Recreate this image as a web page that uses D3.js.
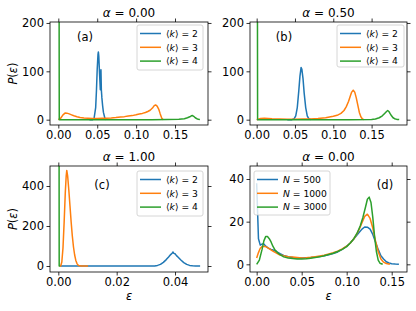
<!DOCTYPE html>
<html>
<head>
<meta charset="utf-8">
<script src="https://cdn.jsdelivr.net/npm/d3@7"></script>
<style>
body { margin: 0; background: #fff; }
text { font-family: "DejaVu Sans", sans-serif; fill: #000; }
</style>
</head>
<body>
<script>
// ---- data ----
var alphaTitles = ['0.00', '0.50', '1.00', '0.00'];
var panelTags = ['(a)', '(b)', '(c)', '(d)'];
var kLabels = ['2', '3', '4'];
var nLabels = ['500', '1000', '3000'];
var colors = ['#1f77b4', '#ff7f0e', '#2ca02c'];

// (a) alpha = 0.00
var epsA2 = [0.040, 0.044, 0.046, 0.048, 0.049, 0.050, 0.051, 0.0515, 0.052, 0.053, 0.054, 0.0548, 0.0553, 0.056, 0.057, 0.058, 0.060, 0.061];
var pA2   = [0, 0, 3, 25, 60, 105, 135, 140, 132, 95, 62, 103, 62, 45, 28, 15, 2, 0];
var epsA3 = [0, 0.003, 0.006, 0.009, 0.011, 0.014, 0.017, 0.020, 0.024, 0.028, 0.033, 0.038, 0.044, 0.050, 0.056, 0.062, 0.068, 0.074, 0.080, 0.085, 0.090, 0.095, 0.100, 0.104, 0.108, 0.112, 0.115, 0.118, 0.121, 0.123, 0.125, 0.127, 0.129, 0.131, 0.133, 0.135];
var pA3   = [0, 3, 10, 14, 13.5, 12, 10, 8, 6, 4.5, 3.5, 3, 2.6, 2.5, 2.8, 3.1, 3.5, 4.4, 5.6, 6.3, 7.7, 8.4, 10, 11.6, 13, 14.8, 17, 19.5, 24, 28.5, 30.5, 28, 22, 12, 3, 0];
var epsA4 = [0, 0.0012, 0.003, 0.03, 0.06, 0.09, 0.12, 0.14, 0.155, 0.162, 0.166, 0.169, 0.171, 0.1725, 0.174, 0.176, 0.178, 0.180, 0.182];
var pA4   = [1500, 0, 0, 0, 0, 0, 0, 0.2, 0.8, 2, 4, 6, 8, 8.6, 7, 4, 2, 0.8, 0.2];

// (b) alpha = 0.50
var epsB2 = [0.040, 0.046, 0.049, 0.051, 0.053, 0.055, 0.0565, 0.058, 0.059, 0.0605, 0.062, 0.064, 0.066, 0.068, 0.071];
var pB2   = [0, 0, 2, 8, 25, 60, 90, 108, 104, 85, 55, 25, 8, 2, 0];
var epsB3 = [0, 0.005, 0.010, 0.015, 0.020, 0.030, 0.040, 0.050, 0.060, 0.070, 0.080, 0.090, 0.095, 0.100, 0.105, 0.110, 0.114, 0.117, 0.120, 0.122, 0.124, 0.126, 0.128, 0.130, 0.132, 0.134, 0.136, 0.138, 0.140];
var pB3   = [0, 2.5, 3, 2.5, 2, 1.5, 1, 1, 1.2, 1.5, 2.5, 4, 5.5, 7, 9, 13, 19, 27, 38, 48, 57, 61, 57, 45, 30, 15, 6, 1.5, 0];
var epsB4 = [0, 0.0012, 0.003, 0.03, 0.06, 0.09, 0.12, 0.15, 0.155, 0.160, 0.164, 0.167, 0.1695, 0.171, 0.1725, 0.174, 0.176, 0.178, 0.180, 0.183, 0.186];
var pB4   = [1500, 0, 0, 0, 0, 0, 0, 0.5, 1.5, 4, 8, 13, 17, 19, 17, 13, 8, 4, 2, 0.6, 0.2];

// (c) alpha = 1.00
var epsC2 = [0.0006, 0.005, 0.010, 0.015, 0.020, 0.025, 0.030, 0.033, 0.034, 0.035, 0.036, 0.037, 0.0378, 0.0385, 0.039, 0.0393, 0.0396, 0.040, 0.0405, 0.041, 0.042, 0.043, 0.044, 0.045, 0.046, 0.047, 0.0486];
var pC2   = [0, 0, 0, 0, 0, 0, 0, 0.5, 3, 8, 18, 32, 45, 57, 64, 70, 63, 61, 52, 45, 30, 17, 8, 3, 1, 0.2, 0];
var epsC3 = [0.0004, 0.0008, 0.0012, 0.0016, 0.002, 0.0024, 0.0027, 0.0029, 0.0032, 0.0036, 0.004, 0.0044, 0.0048, 0.0052, 0.0056, 0.006, 0.0064, 0.0068, 0.0072, 0.008, 0.0102];
var pC3   = [0, 0, 20, 90, 220, 370, 450, 478, 450, 380, 300, 220, 150, 95, 55, 28, 12, 4, 1, 0, 0];
var epsC4 = [0.0001, 0.0003, 0.0006];
var pC4   = [3000, 0, 0];

// (d) alpha = 0.00, system sizes
var epsD1 = [0, 0.002, 0.004, 0.006, 0.008, 0.010, 0.013, 0.016, 0.019, 0.022, 0.026, 0.030, 0.035, 0.040, 0.045, 0.050, 0.055, 0.060, 0.065, 0.070, 0.075, 0.080, 0.085, 0.090, 0.095, 0.100, 0.104, 0.108, 0.111, 0.114, 0.117, 0.120, 0.123, 0.126, 0.129, 0.132, 0.135, 0.138, 0.141, 0.144, 0.147, 0.150, 0.154, 0.158];
var pD1   = [38, 12, 9, 9.5, 9.6, 8.5, 7.6, 7, 6.6, 6, 5, 4.2, 3.6, 3.2, 3, 3, 3.1, 3.2, 3.4, 3.7, 4, 4.5, 5.1, 5.8, 7, 8.5, 10, 12, 13.5, 15, 16.5, 17.5, 17.4, 16.5, 14, 10.5, 7, 4, 2.5, 1.2, 0.6, 0.3, 0.1, 0];
var epsD2 = [0, 0.002, 0.004, 0.006, 0.008, 0.010, 0.012, 0.015, 0.018, 0.021, 0.025, 0.030, 0.035, 0.040, 0.045, 0.050, 0.055, 0.060, 0.065, 0.070, 0.075, 0.080, 0.085, 0.090, 0.095, 0.100, 0.104, 0.108, 0.111, 0.114, 0.117, 0.120, 0.123, 0.126, 0.129, 0.132, 0.135, 0.138, 0.141, 0.144, 0.148];
var pD2   = [3, 5.5, 7.5, 8.3, 8.5, 8.3, 7.8, 7, 6.2, 5.5, 4.5, 4, 3.6, 3.4, 3.2, 3, 3.1, 3.3, 3.6, 3.9, 4.3, 4.8, 5.4, 6.2, 7.2, 8.5, 10, 12, 14, 16.5, 19.5, 22.5, 23.5, 21.5, 17, 11, 6, 2.5, 1, 0.4, 0];
var epsD3 = [0, 0.003, 0.006, 0.008, 0.010, 0.012, 0.014, 0.016, 0.018, 0.020, 0.023, 0.026, 0.030, 0.035, 0.040, 0.045, 0.050, 0.055, 0.060, 0.065, 0.070, 0.075, 0.080, 0.085, 0.090, 0.095, 0.100, 0.104, 0.108, 0.112, 0.115, 0.118, 0.121, 0.123, 0.125, 0.127, 0.129, 0.131, 0.133, 0.135, 0.137, 0.140];
var pD3   = [0, 2, 7, 11, 13, 13, 12, 10.5, 8.5, 7, 5.5, 4.5, 3.5, 3, 2.7, 2.5, 2.5, 2.6, 2.9, 3.2, 3.5, 4, 4.6, 5.2, 6, 7, 8.3, 10, 12, 15, 18, 22, 27, 30.5, 31.5, 29, 22, 13, 6, 2, 0.5, 0];

var ticksXA = [0, 0.05, 0.10, 0.15];
var ticksXC = [0, 0.02, 0.04];
var ticksYA = [0, 100, 200];
var ticksYC = [0, 200, 400];
var ticksYD = [0, 20, 40];

function zipPts(xs, ys) { return xs.map(function (x, i) { return [x, ys[i]]; }); }

// ---- layout ----
var W = 416, H = 311;
var panels = [
  { x0: 50, x1: 208, y0: 22, y1: 125, xd: [-0.0107, 0.1924], yd: [-11, 202], xt: ticksXA, yt: ticksYA,
    series: [zipPts(epsA2, pA2), zipPts(epsA3, pA3), zipPts(epsA4, pA4)], labels: kLabels, kind: 'k',
    leg: { x: 137, y: 25, w: 66, h: 45 }, tag: { x: 85, y: 41 }, ylab: true, xlab: false },
  { x0: 250, x1: 407, y0: 22, y1: 125, xd: [-0.0087, 0.1962], yd: [-11, 202], xt: ticksXA, yt: ticksYA,
    series: [zipPts(epsB2, pB2), zipPts(epsB3, pB3), zipPts(epsB4, pB4)], labels: kLabels, kind: 'k',
    leg: { x: 337, y: 25, w: 67, h: 42 }, tag: { x: 284, y: 41 }, ylab: false, xlab: false },
  { x0: 50, x1: 208, y0: 166, y1: 272, xd: [-0.00285, 0.0513], yd: [-30, 500], xt: ticksXC, yt: ticksYC,
    series: [zipPts(epsC2, pC2), zipPts(epsC3, pC3), zipPts(epsC4, pC4)], labels: kLabels, kind: 'k',
    leg: { x: 137, y: 171, w: 66, h: 45 }, tag: { x: 102, y: 189 }, ylab: true, xlab: true },
  { x0: 250, x1: 407, y0: 166, y1: 272, xd: [-0.0074, 0.167], yd: [-3.6, 46.1], xt: ticksXA, yt: ticksYD,
    series: [zipPts(epsD1, pD1), zipPts(epsD2, pD2), zipPts(epsD3, pD3)], labels: nLabels, kind: 'N',
    leg: { x: 254, y: 171, w: 76, h: 44 }, tag: { x: 385, y: 189 }, ylab: false, xlab: true }
];

var svg = d3.select('body').append('svg').attr('width', W).attr('height', H);

panels.forEach(function (p, pi) {
  var x = d3.scaleLinear().domain(p.xd).range([p.x0, p.x1]);
  var y = d3.scaleLinear().domain(p.yd).range([p.y1, p.y0]);
  var g = svg.append('g');

  g.append('clipPath').attr('id', 'clip' + pi).append('rect')
    .attr('x', p.x0).attr('y', p.y0).attr('width', p.x1 - p.x0).attr('height', p.y1 - p.y0);

  var line = d3.line().x(function (d) { return x(d[0]); }).y(function (d) { return y(d[1]); });
  p.series.forEach(function (s, si) {
    g.append('path').datum(s)
      .attr('clip-path', 'url(#clip' + pi + ')')
      .attr('d', line)
      .attr('fill', 'none')
      .attr('stroke', colors[si])
      .attr('stroke-width', 1.5)
      .attr('stroke-linejoin', 'round');
  });

  var fmt = d3.format('.2f');
  var fmtY = d3.format('d');
  var axB = g.append('g').attr('transform', 'translate(0,' + p.y1 + ')')
    .call(d3.axisBottom(x).tickValues(p.xt).tickFormat(fmt).tickSize(3.5).tickPadding(2.5).tickSizeOuter(0));
  var axT = g.append('g').attr('transform', 'translate(0,' + p.y0 + ')')
    .call(d3.axisTop(x).tickValues(p.xt).tickFormat('').tickSize(3.5).tickSizeOuter(0));
  var axL = g.append('g').attr('transform', 'translate(' + p.x0 + ',0)')
    .call(d3.axisLeft(y).tickValues(p.yt).tickFormat(fmtY).tickSize(3.5).tickPadding(2.5).tickSizeOuter(0));
  var axR = g.append('g').attr('transform', 'translate(' + p.x1 + ',0)')
    .call(d3.axisRight(y).tickValues(p.yt).tickFormat('').tickSize(3.5).tickSizeOuter(0));
  [axB, axT, axL, axR].forEach(function (a) {
    a.select('.domain').remove();
    a.selectAll('line').attr('stroke', '#000').attr('stroke-width', 0.8);
    a.selectAll('text').attr('font-family', '"DejaVu Sans", sans-serif').attr('font-size', 11.5).attr('fill', '#000');
  });

  g.append('rect').attr('x', p.x0).attr('y', p.y0).attr('width', p.x1 - p.x0).attr('height', p.y1 - p.y0)
    .attr('fill', 'none').attr('stroke', '#000').attr('stroke-width', 0.8);

  // title
  var t = g.append('text').attr('x', (p.x0 + p.x1) / 2).attr('y', p.y0 - 5.5)
    .attr('text-anchor', 'middle').attr('font-size', 12);
  t.append('tspan').attr('font-style', 'italic').text('\u03b1');
  t.append('tspan').text(' = ' + alphaTitles[pi]);

  // panel tag
  g.append('text').attr('x', p.tag.x).attr('y', p.tag.y).attr('text-anchor', 'middle')
    .attr('font-size', 11.5).text(panelTags[pi]);

  if (p.ylab) {
    var yl = g.append('text').attr('transform', 'translate(17,' + ((p.y0 + p.y1) / 2) + ') rotate(-90)')
      .attr('text-anchor', 'middle').attr('font-size', 11.5);
    yl.append('tspan').attr('font-style', 'italic').text('P');
    yl.append('tspan').text('(');
    yl.append('tspan').attr('font-style', 'italic').text('\u03b5');
    yl.append('tspan').text(')');
  }
  if (p.xlab) {
    g.append('text').attr('x', (p.x0 + p.x1) / 2).attr('y', 300).attr('text-anchor', 'middle')
      .attr('font-size', 11.5).attr('font-style', 'italic').text('\u03b5');
  }

  // legend
  var L = p.leg;
  g.append('rect').attr('x', L.x).attr('y', L.y).attr('width', L.w).attr('height', L.h)
    .attr('rx', 2).attr('fill', '#fff').attr('fill-opacity', 0.8).attr('stroke', '#ccc').attr('stroke-width', 0.8);
  p.labels.forEach(function (lab, li) {
    var ly = L.y + 8.5 + li * 13.8;
    g.append('line').attr('x1', L.x + 3).attr('x2', L.x + 24).attr('y1', ly).attr('y2', ly)
      .attr('stroke', colors[li]).attr('stroke-width', 1.5);
    var tx = g.append('text').attr('x', L.x + 29).attr('y', ly + 3.2).attr('font-size', 9.2);
    if (p.kind === 'k') {
      tx.append('tspan').text('\u27e8');
      tx.append('tspan').attr('font-style', 'italic').text('k');
      tx.append('tspan').text('\u27e9 = ' + lab);
    } else {
      tx.append('tspan').attr('font-style', 'italic').text('N');
      tx.append('tspan').text(' = ' + lab);
    }
  });
});
</script>
</body>
</html>
